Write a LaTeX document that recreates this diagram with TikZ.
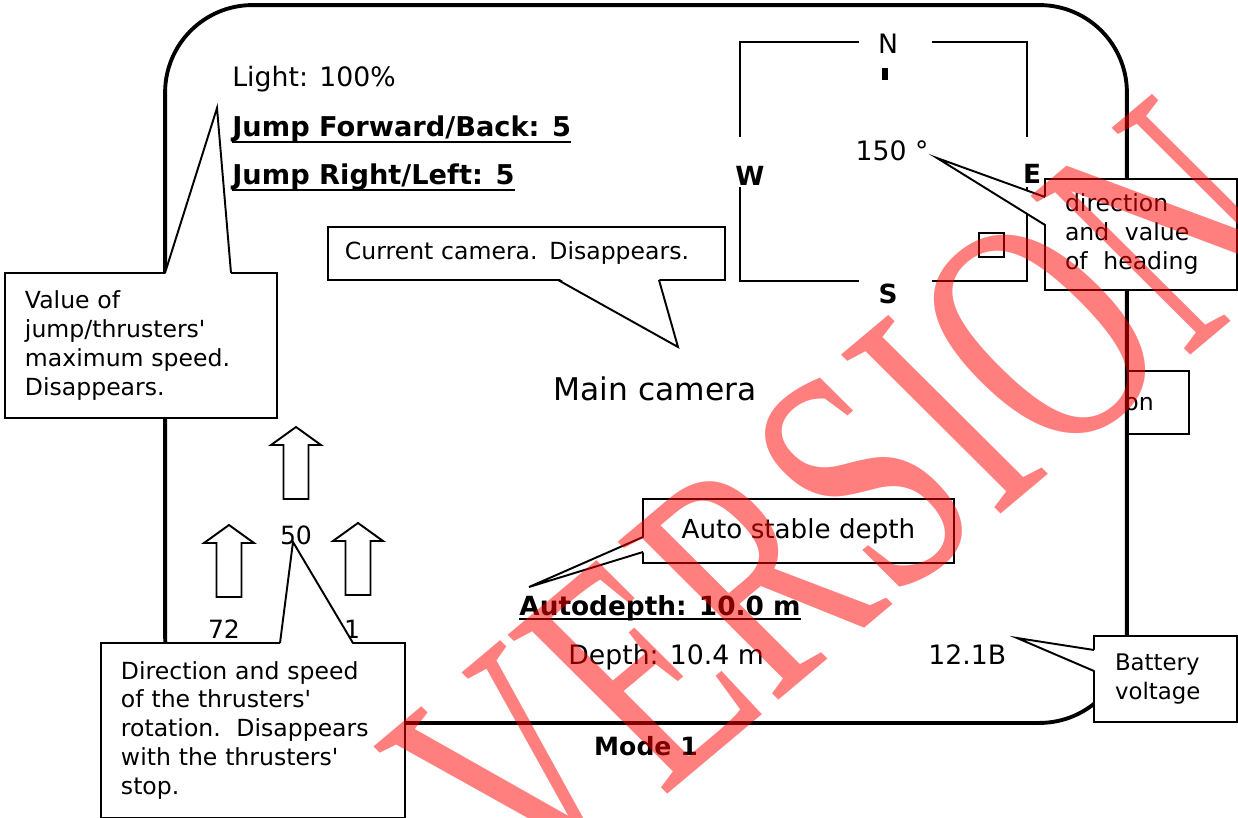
\documentclass[tikz,border=0pt]{standalone}
\usepackage{fontspec}
\setmainfont{DejaVu Sans}
\newfontfamily\markfont{Liberation Serif}
\usetikzlibrary{calc}

\begin{document}
\begin{tikzpicture}[
    x=0.02cm, y=-0.02cm,
    screentext/.style={inner sep=0pt, font=\fontsize{15.2}{18}\selectfont},
    boldtext/.style={inner sep=0pt, font=\fontsize{15.5}{18}\selectfont\bfseries},
    compasstext/.style={inner sep=0pt, font=\fontsize{15}{18}\selectfont\bfseries},
    notebox/.style={draw, fill=white, line width=1.1pt, anchor=north west, outer sep=0pt, inner xsep=0.4cm, inner ysep=0pt, align=left, font=\fontsize{13.4}{16.5}\selectfont},
    pointer/.style={line width=1.1pt, line join=miter},
    compass/.style={line width=1.1pt},
    thruster/.style={line width=1.1pt, fill=white, line join=miter},
    uline/.style={line width=1.1pt}
  ]
  \useasboundingbox (0,0) rectangle (1238,818);

  % box behind the screen
  \node[draw, line width=1.1pt, anchor=north west, outer sep=0pt, minimum width=1.78cm, minimum height=1.26cm] (sidebox) at (1100,371) {};
  \node[screentext, font=\fontsize{13.4}{16}\selectfont] (sidetext) at (1139,404) {on};

  % screen
  \node[draw, line width=2.2pt, fill=white, rounded corners=1.75cm, minimum width=19.24cm, minimum height=14.36cm, inner sep=0pt, outer sep=0pt] (screen) at (646,364) {};

  \node[screentext, anchor=base west] (light) at (232,86) {Light: 100\%};
  \node[boldtext, anchor=base west] (jumpfb) at (232,136) {Jump Forward/Back: 5};
  \node[boldtext, anchor=base west] (jumprl) at (232,184) {Jump Right/Left: 5};
  \draw[uline] ($(jumpfb.base west)+(0,6)$) -- ($(jumpfb.base east)+(0,6)$);
  \draw[uline] ($(jumprl.base west)+(0,6)$) -- ($(jumprl.base east)+(0,6)$);

  % compass
  \node[screentext, anchor=base] (north) at (888,53) {N};
  \fill (882,68) rectangle (888,80);
  \node[screentext, anchor=base] (heading) at (892,160) {150 °};
  \node[compasstext, anchor=base] (west) at (750,185) {W};
  \node[compasstext, anchor=base] (east) at (1032,183) {E};
  \node[compasstext, anchor=base] (south) at (888,303) {S};
  \draw[compass] (859,42) -| (740,137);
  \draw[compass] (932,42) -| (1027,137);
  \draw[compass] (740,187) |- (859,281);
  \draw[compass] (1027,187) |- (932,281);
  \draw[line width=0.9pt] (979,233) rectangle (1004,257);

  \node[font=\fontsize{17.8}{20}\selectfont, inner sep=0pt, anchor=base] (maincam) at (655,400) {Main camera};

  % thrusters
  \foreach \tx/\ty in {296/427, 229/525, 358/523}
    \draw[thruster] (\tx,\ty) -- ++(25,18) -- ++(-12.5,0) -- ++(0,54) -- ++(-25,0) -- ++(0,-54) -- ++(-12.5,0) -- cycle;
  \node[screentext, font=\fontsize{14.3}{16}\selectfont, anchor=base] (fwdspeed) at (296,544) {50};
  \node[screentext, font=\fontsize{14.3}{16}\selectfont, anchor=base] (leftspeed) at (224,638) {72};
  \node[screentext, font=\fontsize{14.3}{16}\selectfont, anchor=base] (rightspeed) at (352,638) {1};

  \node[boldtext, font=\fontsize{15}{18}\selectfont\bfseries, anchor=base west] (autodepth) at (519,615) {Autodepth: 10.0 m};
  \draw[uline] ($(autodepth.base west)+(0,4)$) -- ($(autodepth.base east)+(0,4)$);
  \node[screentext, anchor=base west] (depth) at (568,664) {Depth: 10.4 m};
  \node[screentext, anchor=base west] (voltage) at (928,664) {12.1B};
  \node[boldtext, font=\fontsize{14.3}{16}\selectfont\bfseries, anchor=base] (mode) at (646,755) {Mode 1};

  % callouts
  \node[notebox, text width=4.64cm, minimum height=2.9cm] (jumpnote) at (5,273) {Value of\\jump/thrusters\textquotesingle\\maximum speed.\\Disappears.};
  \coordinate (jumptip) at (217,108);
  \fill[white] ($(jumpnote.north west)+(160,2)$) -- (jumptip) -- ($(jumpnote.north west)+(226,2)$) -- cycle;
  \draw[pointer] ($(jumpnote.north west)+(160,0)$) -- (jumptip) -- ($(jumpnote.north west)+(226,0)$);

  \node[notebox, inner xsep=0.34cm, text width=7.26cm, minimum height=1.06cm] (camnote) at (328,227) {Current camera. Disappears.};
  \coordinate (camtip) at (678,347);
  \fill[white] ($(camnote.south west)+(230,-2)$) -- (camtip) -- ($(camnote.south west)+(331,-2)$) -- cycle;
  \draw[pointer] ($(camnote.south west)+(230,0)$) -- (camtip) -- ($(camnote.south west)+(331,0)$);

  \node[notebox, text width=3.04cm, minimum height=2.22cm] (headnote) at (1045,179) {direction\\and\ \ value\\of\ \ heading};
  \coordinate (headtip) at (937,158);
  \fill[white] ($(headnote.north west)+(2,18)$) -- (headtip) -- ($(headnote.north west)+(2,46)$) -- cycle;
  \draw[pointer] ($(headnote.north west)+(0,18)$) -- (headtip) -- ($(headnote.north west)+(0,46)$);

  \node[notebox, text width=5.28cm, minimum height=3.5cm] (thrustnote) at (101,643) {Direction and speed\\of the thrusters\textquotesingle\\rotation.\ \ Disappears\\with the thrusters\textquotesingle\\stop.};
  \coordinate (thrusttip) at (293,542);
  \fill[white] ($(thrustnote.north west)+(179,2)$) -- (thrusttip) -- ($(thrustnote.north west)+(252,2)$) -- cycle;
  \draw[pointer] ($(thrustnote.north west)+(179,0)$) -- (thrusttip) -- ($(thrustnote.north west)+(252,0)$);

  \node[notebox, align=center, minimum width=6.22cm, minimum height=1.28cm, font=\fontsize{14.9}{18}\selectfont] (depthnote) at (643,499) {Auto stable depth};
  \coordinate (depthtip) at (529,587);
  \fill[white] ($(depthnote.north west)+(2,38)$) -- (depthtip) -- ($(depthnote.north west)+(2,53)$) -- cycle;
  \draw[pointer] ($(depthnote.north west)+(0,38)$) -- (depthtip) -- ($(depthnote.north west)+(0,53)$);

  \node[notebox, inner xsep=0.42cm, text width=2.02cm, minimum height=1.72cm, font=\fontsize{13}{16.5}\selectfont] (battnote) at (1094,636) {Battery\\voltage};
  \coordinate (batttip) at (1017,638);
  \fill[white] ($(battnote.north west)+(2,14)$) -- (batttip) -- ($(battnote.north west)+(2,35)$) -- cycle;
  \draw[pointer] ($(battnote.north west)+(0,14)$) -- (batttip) -- ($(battnote.north west)+(0,35)$);

  % watermark
  \node[text=red, text opacity=0.5, rotate=40, xslant=-0.09, inner sep=0pt, font=\markfont\fontsize{195}{195}\selectfont] (mark) at (845,500) {\scalebox{0.69}[1]{VERSION}};
\end{tikzpicture}
\end{document}
